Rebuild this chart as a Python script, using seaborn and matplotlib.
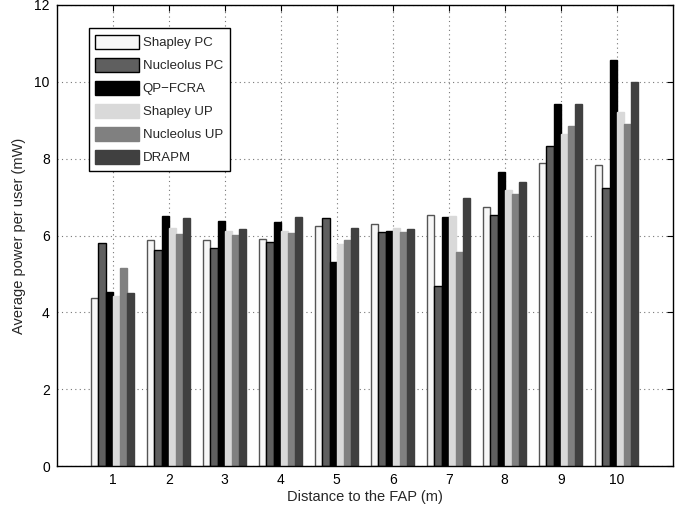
import matplotlib
matplotlib.use("Agg")
import matplotlib.pyplot as plt
from matplotlib.patches import Patch
import seaborn as sns
import pandas as pd

distances = ["1", "2", "3", "4", "5", "6", "7", "8", "9", "10"]
schemes = ["Shapley PC", "Nucleolus PC", "QP\u2212FCRA", "Shapley UP", "Nucleolus UP", "DRAPM"]

shapley_pc   = [4.37, 5.89, 5.89, 5.90, 6.25, 6.29, 6.53, 6.74, 7.90, 7.84]
nucleolus_pc = [5.81, 5.62, 5.68, 5.82, 6.45, 6.08, 4.68, 6.53, 8.32, 7.23]
qp_fcra      = [4.53, 6.51, 6.37, 6.34, 5.31, 6.12, 6.49, 7.66, 9.43, 10.58]
shapley_up   = [4.43, 6.19, 6.12, 6.12, 5.78, 6.19, 6.51, 7.19, 8.65, 9.21]
nucleolus_up = [5.15, 6.05, 6.01, 6.06, 5.88, 6.09, 5.58, 7.09, 8.86, 8.89]
drapm        = [4.51, 6.46, 6.17, 6.48, 6.19, 6.17, 6.98, 7.40, 9.43, 9.99]

series = [shapley_pc, nucleolus_pc, qp_fcra, shapley_up, nucleolus_up, drapm]
face_colors = ["#f7f7f7", "#5f5f5f", "#000000", "#d9d9d9", "#808080", "#404040"]
edge_colors = ["#555555", "#000000", "#000000", "#d9d9d9", "#808080", "#404040"]

rows = []
for name, vals in zip(schemes, series):
    for d, v in zip(distances, vals):
        rows.append({"Distance": d, "Scheme": name, "Power": v})
df = pd.DataFrame(rows)

sns.set_style("white")
plt.rcParams["font.family"] = ["Liberation Sans", "DejaVu Sans"]

fig = plt.figure(figsize=(6.83, 5.09), dpi=100)
ax = fig.add_axes([56.7 / 683, 43 / 509, 616 / 683, 461 / 509])

sns.barplot(data=df, x="Distance", y="Power", hue="Scheme", order=distances,
            hue_order=schemes, palette=face_colors, width=0.77, gap=0,
            errorbar=None, legend=False, ax=ax, saturation=1)

for cont, ec in zip(ax.containers, edge_colors):
    for p in cont.patches:
        p.set_edgecolor(ec)
        p.set_linewidth(1.0)

ax.set_xlim(-1, 10)
ax.set_ylim(0, 12)
ax.set_yticks([0, 2, 4, 6, 8, 10, 12])
ax.set_axisbelow(True)
ax.grid(True, linestyle=(0, (1, 3)), color="#777777", linewidth=0.8)

for s in ax.spines.values():
    s.set_visible(True)
    s.set_color("black")
    s.set_linewidth(1.0)
ax.tick_params(direction="in", length=4, width=0.8, top=True, right=True,
               labelsize=10, colors="black", pad=5)

ax.set_xlabel("Distance to the FAP (m)", fontsize=10.5, labelpad=2)
ax.set_ylabel("Average power per user (mW)", fontsize=10.5, labelpad=6)

handles = [Patch(facecolor=fc, edgecolor=("#000000" if i < 3 else fc), linewidth=1.0, label=s)
           for i, (fc, s) in enumerate(zip(face_colors, schemes))]
leg = ax.legend(handles=handles, loc="upper left", bbox_to_anchor=(0.052, 0.95),
                borderaxespad=0, fontsize=9.5, handlelength=3.3, handleheight=1.35,
                labelspacing=0.62, handletextpad=0.3, borderpad=0.5,
                fancybox=False, framealpha=1)
leg.get_frame().set_edgecolor("black")
leg.get_frame().set_linewidth(1.0)

fig.savefig("out.png", dpi=100)
